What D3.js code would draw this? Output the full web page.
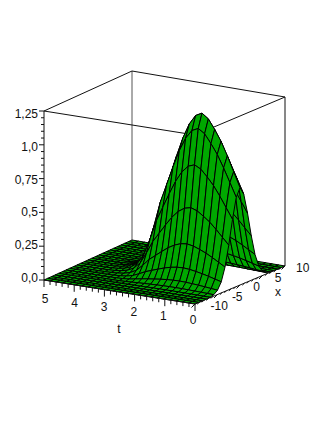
<!DOCTYPE html>
<html>
<head>
<meta charset="utf-8">
<script src="https://cdn.jsdelivr.net/npm/d3@7"></script>
<style>
  html, body { margin: 0; padding: 0; background: #fff; }
  text { font-family: "Liberation Sans", Arial, sans-serif; font-size: 12px; fill: #111; }
</style>
</head>
<body>
<div id="container"></div>
<script>
// grid lines of the surface, 25 x 25
const tGrid = d3.range(25).map((i) => i * 5 / 24);
const xGrid = d3.range(25).map((i) => -10 + i * 20 / 24);

// crest height read along t, and share of the crest read along x
const crestByT = [0.72, 0.83, 0.94, 1.04, 1.12, 1.19, 1.225, 1.2, 1.13, 1.02, 0.88, 0.73, 0.58,
  0.38, 0.2, 0.1, 0.05, 0.025, 0.012, 0.006, 0.003, 0.002, 0.001, 0.0005, 0];
const shareByX = [0, 0, 0, 0.001, 0.004, 0.014, 0.044, 0.114, 0.249, 0.458, 0.707, 0.917, 1,
  0.917, 0.707, 0.458, 0.249, 0.114, 0.044, 0.014, 0.004, 0.001, 0, 0, 0];

const zTicks = [0, 0.25, 0.5, 0.75, 1, 1.25];
const zLabels = ["0,0", "0,25", "0,5", "0,75", "1,0", "1,25"];
const tTicks = [0, 1, 2, 3, 4, 5];
const xTicks = [-10, -5, 0, 5, 10];

const w = 327;
const h = 423;
const svg = d3.select("#container")
  .append("svg")
  .attr("width", w)
  .attr("height", h);

// box corners on the page, the box is seen in slight perspective
const tPos = d3.scaleLinear().domain([0, 5]).range([0, 1]);
const xPos = d3.scaleLinear().domain([-10, 10]).range([0, 1]);
const zPos = d3.scaleLinear().domain([0, 1.25]).range([0, 169]);
const nearRail = d3.interpolate([195, 304], [44, 280]);
const farRail = d3.interpolate([285, 266], [132, 240]);

function project(t, x, z) {
  const p = d3.interpolate(nearRail(tPos(t)), farRail(tPos(t)))(xPos(x));
  return [p[0], p[1] - zPos(z)];
}

const line = d3.line();

// far cells first so near ones paint over them
const cells = svg.append("g");
for (let i = tGrid.length - 2; i >= 0; i--) {
  for (let j = xGrid.length - 2; j >= 0; j--) {
    const z = (a, b) => crestByT[a] * shareByX[b];
    const pts = [
      project(tGrid[i], xGrid[j], z(i, j)),
      project(tGrid[i + 1], xGrid[j], z(i + 1, j)),
      project(tGrid[i + 1], xGrid[j + 1], z(i + 1, j + 1)),
      project(tGrid[i], xGrid[j + 1], z(i, j + 1))
    ];
    cells.append("path")
      .attr("d", line(pts) + "Z")
      .attr("fill", "#00a800")
      .attr("stroke", "#000")
      .attr("stroke-width", 1)
      .attr("stroke-linejoin", "round");
  }
}

function edge(a, b) {
  return line([a, b]);
}

// box edges, the ones behind the surface go below it
const back = svg.insert("g", "g")
  .attr("fill", "none")
  .attr("stroke", "#111")
  .attr("stroke-width", 1);
back.append("path").attr("d", edge(project(5, 10, 0), project(5, 10, 1.25))).attr("stroke", "#555");
back.append("path").attr("d", edge(project(5, -10, 1.25), project(0, -10, 1.25)));
back.append("path").attr("d", edge(project(0, -10, 1.25), project(0, 10, 1.25)));
back.append("path").attr("d", edge(project(5, -10, 1.25), project(5, 10, 1.25)));
back.append("path").attr("d", edge(project(5, 10, 1.25), project(0, 10, 1.25)));
back.append("path").attr("d", edge(project(0, 10, 0), project(0, 10, 1.25)));

const axes = svg.append("g")
  .attr("fill", "none")
  .attr("stroke", "#111")
  .attr("stroke-width", 1);
axes.append("path").attr("d", edge(project(5, -10, 0), project(5, -10, 1.25)));
axes.append("path").attr("d", edge(project(5, -10, 0), project(0, -10, 0)));
axes.append("path").attr("d", edge(project(0, -10, 0), project(0, 10, 0)));

// z axis ticks, minor every 0.05
d3.range(26).forEach((i) => {
  const p = project(5, -10, i * 0.05);
  const len = i % 5 === 0 ? 5 : 3;
  axes.append("path").attr("d", edge(p, [p[0] - len, p[1]]));
});
// t axis ticks, minor every 0.2
d3.range(26).forEach((i) => {
  const p = project(i * 0.2, -10, 0);
  const len = i % 5 === 0 ? 7 : 4;
  axes.append("path").attr("d", edge(p, [p[0], p[1] + len]));
});
// x axis ticks, minor every 1
d3.range(21).forEach((i) => {
  const p = project(0, -10 + i, 0);
  const len = i % 5 === 0 ? 5 : 3;
  axes.append("path").attr("d", edge(p, [p[0] - len * 0.7, p[1] + len * 0.7]));
});

// label offsets drift a little along each axis
const zNudge = d3.scaleLinear().domain([0, 1.25]).range([2, 7]);
const tNudgeX = d3.scaleLinear().domain([0, 5]).range([-2, 1]);
const tNudgeY = d3.scaleLinear().domain([0, 5]).range([20, 23]);
const xNudge = d3.scaleLinear().domain([-10, 10]).range([15.5, 11]);

const labels = svg.append("g");
zTicks.forEach((d, i) => {
  const p = project(5, -10, d);
  labels.append("text")
    .attr("x", p[0] - 6)
    .attr("y", p[1] + zNudge(d))
    .attr("text-anchor", "end")
    .text(zLabels[i]);
});
tTicks.forEach((d) => {
  const p = project(d, -10, 0);
  labels.append("text")
    .attr("x", p[0] + tNudgeX(d))
    .attr("y", p[1] + tNudgeY(d))
    .attr("text-anchor", "middle")
    .text(d);
});
xTicks.forEach((d) => {
  const p = project(0, d, 0);
  labels.append("text")
    .attr("x", p[0] + xNudge(d))
    .attr("y", p[1] + 6.3)
    .text(d);
});
labels.append("text").attr("x", 119).attr("y", 333).attr("text-anchor", "middle").text("t");
labels.append("text").attr("x", 278).attr("y", 296).attr("text-anchor", "middle").text("x");
</script>
</body>
</html>
